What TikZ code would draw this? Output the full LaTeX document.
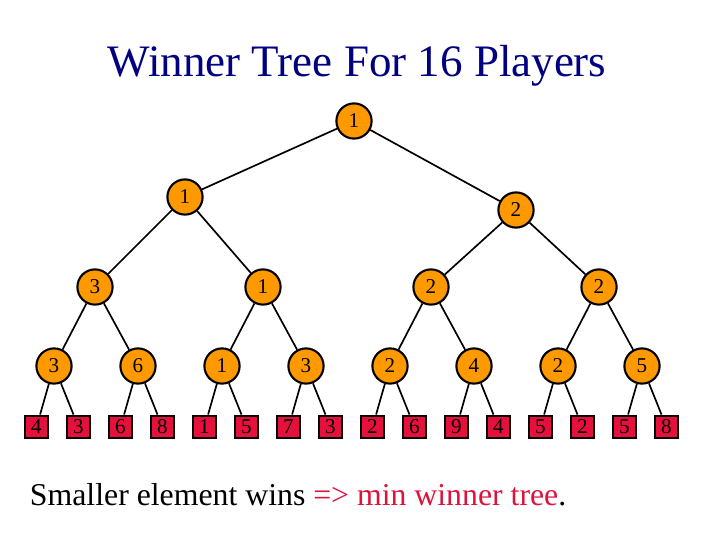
\documentclass[tikz,border=0pt]{standalone}
\usepackage{fontspec}
\setmainfont{Liberation Serif}
\usepackage{tikz}
\usetikzlibrary{positioning}
\definecolor{wincol}{RGB}{255,153,0}
\definecolor{leafcol}{RGB}{230,16,60}
\definecolor{redtext}{RGB}{220,20,60}
\definecolor{titlecol}{RGB}{0,0,128}

\begin{document}
\begin{tikzpicture}[x=0.025cm, y=-0.025cm, font=\fontsize{15}{17}\selectfont,
    win/.style={draw, line width=1.5pt, circle, fill=wincol, minimum size=0.88cm, inner sep=0pt},
    player/.style={draw, line width=1.5pt, fill=leafcol, minimum size=0.57cm, inner sep=0pt},
    link/.style={line width=1.2pt}]
  \useasboundingbox (0,0) rectangle (720,540);
  \node[font=\fontsize{32}{36}\selectfont, text=titlecol] (title) at (357,66) {Winner Tree For 16 Players};
  % winner nodes
  \node[win] (r) at (354,121) {1};
  \node[win] (a1) at (185,197) {1};
  \node[win] (a2) at (516,210) {2};
  \node[win] (b1) at (95,287) {3};
  \node[win] (b2) at (263,287) {1};
  \node[win] (b3) at (431,287) {2};
  \node[win] (b4) at (599,287) {2};
  \node[win] (c1) at (54,366) {3};
  \node[win] (c2) at (138,366) {6};
  \node[win] (c3) at (222,366) {1};
  \node[win] (c4) at (306,366) {3};
  \node[win] (c5) at (390,366) {2};
  \node[win] (c6) at (474,366) {4};
  \node[win] (c7) at (558,366) {2};
  \node[win] (c8) at (642,366) {5};
  % players
  \node[player] (p1) at (36.5,427) {4};
  \node[player] (p2) at (78.5,427) {3};
  \node[player] (p3) at (120.5,427) {6};
  \node[player] (p4) at (162.5,427) {8};
  \node[player] (p5) at (204.5,427) {1};
  \node[player] (p6) at (246.5,427) {5};
  \node[player] (p7) at (288.5,427) {7};
  \node[player] (p8) at (330.5,427) {3};
  \node[player] (p9) at (372.5,427) {2};
  \node[player] (p10) at (414.5,427) {6};
  \node[player] (p11) at (456.5,427) {9};
  \node[player] (p12) at (498.5,427) {4};
  \node[player] (p13) at (540.5,427) {5};
  \node[player] (p14) at (582.5,427) {2};
  \node[player] (p15) at (624.5,427) {5};
  \node[player] (p16) at (666.5,427) {8};
  % edges
  \draw[link] (r) -- (a1);
  \draw[link] (r) -- (a2);
  \draw[link] (a1) -- (b1);
  \draw[link] (a1) -- (b2);
  \draw[link] (a2) -- (b3);
  \draw[link] (a2) -- (b4);
  \draw[link] (b1) -- (c1);
  \draw[link] (b1) -- (c2);
  \draw[link] (b2) -- (c3);
  \draw[link] (b2) -- (c4);
  \draw[link] (b3) -- (c5);
  \draw[link] (b3) -- (c6);
  \draw[link] (b4) -- (c7);
  \draw[link] (b4) -- (c8);
  \draw[link] (c1) -- (p1);
  \draw[link] (c1) -- (p2);
  \draw[link] (c2) -- (p3);
  \draw[link] (c2) -- (p4);
  \draw[link] (c3) -- (p5);
  \draw[link] (c3) -- (p6);
  \draw[link] (c4) -- (p7);
  \draw[link] (c4) -- (p8);
  \draw[link] (c5) -- (p9);
  \draw[link] (c5) -- (p10);
  \draw[link] (c6) -- (p11);
  \draw[link] (c6) -- (p12);
  \draw[link] (c7) -- (p13);
  \draw[link] (c7) -- (p14);
  \draw[link] (c8) -- (p15);
  \draw[link] (c8) -- (p16);
  \node[anchor=base west, font=\fontsize{22.6}{26}\selectfont] (note) at (25,505)
    {Smaller element wins \textcolor{redtext}{=> min winner tree}.};
\end{tikzpicture}
\end{document}
